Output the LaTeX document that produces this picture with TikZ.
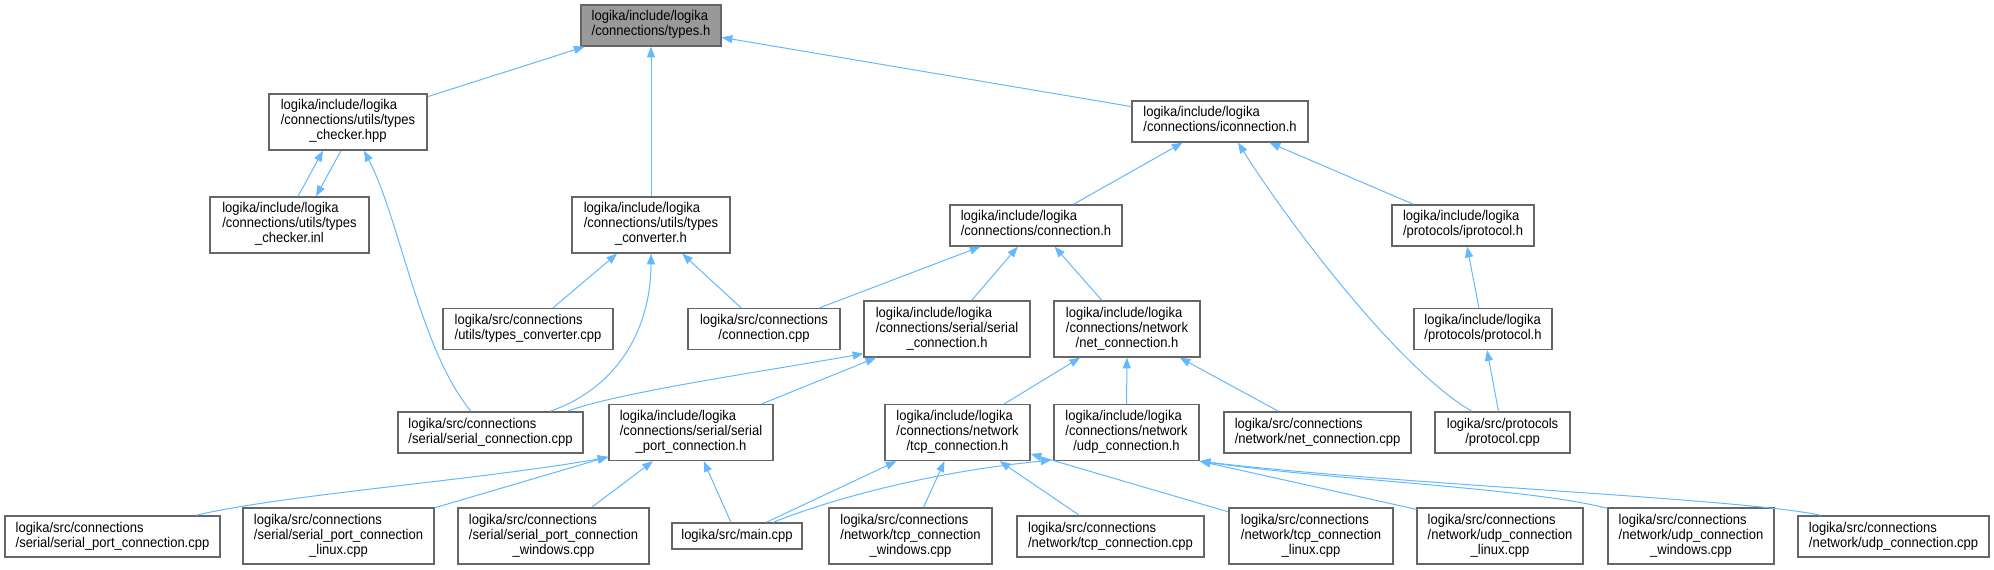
\documentclass[tikz,border=0pt]{standalone}
\usepackage{fontspec}
\setmainfont{Liberation Sans}[FakeStretch=0.92]
\usepackage{tikz}
\usetikzlibrary{arrows.meta, calc}

\definecolor{edgeblue}{HTML}{63B8FF}
\definecolor{boxgray}{HTML}{666666}
\definecolor{rootgray}{HTML}{999999}

\newcommand{\twol}[2]{\begin{tabular}{@{}l@{}}#1\\\multicolumn{1}{@{}c@{}}{#2}\end{tabular}}
\newcommand{\threel}[3]{\begin{tabular}{@{}l@{}}#1\\#2\\\multicolumn{1}{@{}c@{}}{#3}\end{tabular}}

\tikzset{x=.75pt,y=-.75pt,
  file/.style={draw=boxgray, fill=white, line width=1pt, inner sep=0pt,
    font=\fontsize{10.6}{11.25}\selectfont},
  ln1/.style={minimum height=19.5pt},
  ln2/.style={minimum height=30.75pt},
  ln3/.style={minimum height=42pt},
  dep/.style={draw=edgeblue, line width=.75pt, -{Triangle[length=8pt,width=6pt]}}}

\begin{document}
\begin{tikzpicture}
\useasboundingbox (0,0) rectangle (1994,570);
    % root
    \node[file, ln2, fill=rootgray, minimum width=105pt] (typesh) at (651,25.5)
      {\twol{logika/include/logika}{/connections/types.h}};
    % headers
    \node[file, ln3, minimum width=118.5pt] (chkhpp) at (348,122)
      {\threel{logika/include/logika}{/connections/utils/types}{\_checker.hpp}};
    \node[file, ln3, minimum width=119.25pt] (chkinl) at (289.5,225)
      {\threel{logika/include/logika}{/connections/utils/types}{\_checker.inl}};
    \node[file, ln3, minimum width=118.5pt] (convh) at (651,225)
      {\threel{logika/include/logika}{/connections/utils/types}{\_converter.h}};
    \node[file, ln2, minimum width=132pt] (iconnh) at (1220,121.5)
      {\twol{logika/include/logika}{/connections/iconnection.h}};
    \node[file, ln2, minimum width=129pt] (connh) at (1036,225.5)
      {\twol{logika/include/logika}{/connections/connection.h}};
    \node[file, ln2, minimum width=106.5pt] (iprotoh) at (1463,225.5)
      {\twol{logika/include/logika}{/protocols/iprotocol.h}};
    \node[file, ln2, minimum width=127.5pt] (convcpp) at (528,329)
      {\twol{logika/src/connections}{/utils/types\_converter.cpp}};
    \node[file, ln2, minimum width=114pt] (conncpp) at (764,329)
      {\twol{logika/src/connections}{/connection.cpp}};
    \node[file, ln3, minimum width=124.5pt] (serconnh) at (947,329)
      {\threel{logika/include/logika}{/connections/serial/serial}{\_connection.h}};
    \node[file, ln3, minimum width=109.5pt] (netconnh) at (1127,329)
      {\threel{logika/include/logika}{/connections/network}{/net\_connection.h}};
    \node[file, ln2, minimum width=103.5pt] (protoh) at (1483,329)
      {\twol{logika/include/logika}{/protocols/protocol.h}};
    \node[file, ln2, minimum width=138.75pt] (serconncpp) at (490.5,432.5)
      {\twol{logika/src/connections}{/serial/serial\_connection.cpp}};
    \node[file, ln3, minimum width=123pt] (sportconnh) at (691,432.5)
      {\threel{logika/include/logika}{/connections/serial/serial}{\_port\_connection.h}};
    \node[file, ln3, minimum width=108.75pt] (tcpconnh) at (957.5,432.5)
      {\threel{logika/include/logika}{/connections/network}{/tcp\_connection.h}};
    \node[file, ln3, minimum width=108.75pt] (udpconnh) at (1126.5,432.5)
      {\threel{logika/include/logika}{/connections/network}{/udp\_connection.h}};
    \node[file, ln2, minimum width=140.25pt] (netconncpp) at (1317.5,432.5)
      {\twol{logika/src/connections}{/network/net\_connection.cpp}};
    \node[file, ln2, minimum width=101.25pt] (protocpp) at (1502.5,432.5)
      {\twol{logika/src/protocols}{/protocol.cpp}};
    % sources, bottom row
    \node[file, ln2, minimum width=161.25pt] (sportcpp) at (112.5,536.5)
      {\twol{logika/src/connections}{/serial/serial\_port\_connection.cpp}};
    \node[file, ln3, minimum width=143.25pt] (sportlinux) at (338.5,536)
      {\threel{logika/src/connections}{/serial/serial\_port\_connection}{\_linux.cpp}};
    \node[file, ln3, minimum width=143.25pt] (sportwin) at (553.5,536)
      {\threel{logika/src/connections}{/serial/serial\_port\_connection}{\_windows.cpp}};
    \node[file, ln1, minimum width=97.5pt] (maincpp) at (737,536)
      {logika/src/main.cpp};
    \node[file, ln3, minimum width=122.25pt] (tcpwin) at (910.5,536)
      {\threel{logika/src/connections}{/network/tcp\_connection}{\_windows.cpp}};
    \node[file, ln2, minimum width=140.25pt] (tcpcpp) at (1110.5,536.5)
      {\twol{logika/src/connections}{/network/tcp\_connection.cpp}};
    \node[file, ln3, minimum width=123pt] (tcplinux) at (1311,536)
      {\threel{logika/src/connections}{/network/tcp\_connection}{\_linux.cpp}};
    \node[file, ln3, minimum width=124.5pt] (udplinux) at (1500,536)
      {\threel{logika/src/connections}{/network/udp\_connection}{\_linux.cpp}};
    \node[file, ln3, minimum width=124.5pt] (udpwin) at (1691,536)
      {\threel{logika/src/connections}{/network/udp\_connection}{\_windows.cpp}};
    \node[file, ln2, minimum width=143.25pt] (udpcpp) at (1893.5,536.5)
      {\twol{logika/src/connections}{/network/udp\_connection.cpp}};

    % types.h
    \draw[dep] (chkhpp) -- (typesh);
    \draw[dep] (convh) -- (typesh);
    \draw[dep] (iconnh) -- (typesh);
    % types_checker
    \draw[dep] ($(chkinl.north)+(8.5,0)$) -- ($(chkhpp.south)+(-25,0)$);
    \draw[dep] ($(chkhpp.south)+(-7,0)$) -- ($(chkinl.north)+(26.5,0)$);
    \draw[dep] ($(serconncpp.north)+(-19.5,0)$) .. controls (420,350) and (400,220) .. ($(chkhpp.south)+(16,0)$);
    % types_converter.h
    \draw[dep] (convcpp) -- (convh);
    \draw[dep] ($(serconncpp.north)+(59.5,0)$) .. controls (625,385) and (651,320) .. (convh.south);
    \draw[dep] (conncpp) -- (convh);
    % iconnection.h
    \draw[dep] (connh) -- (iconnh);
    \draw[dep] (iprotoh) -- (iconnh);
    \draw[dep] ($(protocpp.north)+(-30.5,0)$) .. controls (1400,370) and (1290,225) .. ($(iconnh.south)+(18,0)$);
    % connection.h
    \draw[dep] (conncpp) -- (connh);
    \draw[dep] (serconnh) -- (connh);
    \draw[dep] (netconnh) -- (connh);
    % protocols
    \draw[dep] (protoh) -- (iprotoh);
    \draw[dep] (protocpp) -- (protoh);
    % serial_connection.h
    \draw[dep] ($(serconncpp.north)+(76.5,0)$) .. controls (620,392) and (760,372) .. ($(serconnh.south west)+(0,-4)$);
    \draw[dep] (sportconnh) -- (serconnh);
    % net_connection.h
    \draw[dep] (tcpconnh) -- (netconnh);
    \draw[dep] (udpconnh) -- (netconnh);
    \draw[dep] (netconncpp) -- (netconnh);
    % serial_port_connection.h
    \draw[dep] ($(sportcpp.north)+(83.5,0)$) .. controls (280,495) and (480,480) .. ($(sportconnh.south west)+(0,-4)$);
    \draw[dep] (sportlinux) -- (sportconnh);
    \draw[dep] (sportwin) -- (sportconnh);
    \draw[dep] (maincpp) -- (sportconnh);
    % tcp_connection.h
    \draw[dep] (maincpp) -- (tcpconnh);
    \draw[dep] (tcpwin) -- (tcpconnh);
    \draw[dep] (tcpcpp) -- (tcpconnh);
    \draw[dep] (tcplinux) -- (tcpconnh);
    % udp_connection.h
    \draw[dep] ($(maincpp.north)+(36,0)$) .. controls (850,492) and (950,470) .. ($(udpconnh.south west)+(-2,-1)$);
    \draw[dep] ($(udplinux.north west)+(0,2)$) -- (udpconnh.south east);
    \draw[dep] ($(udpwin.north west)+(0,1)$) .. controls (1530,488) and (1330,480) .. (udpconnh.south east);
    \draw[dep] ($(udpcpp.north)+(-72.5,0)$) .. controls (1740,498) and (1400,485) .. (udpconnh.south east);
\end{tikzpicture}
\end{document}
